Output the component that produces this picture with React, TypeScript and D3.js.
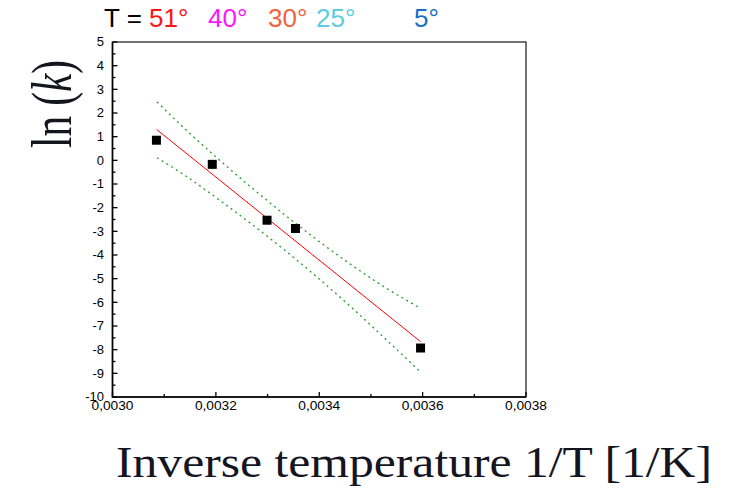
import { useEffect, useRef } from "react"
import * as d3 from "d3"

// measured points: inverse temperature (1/K) vs ln(k)
const invTemp = [0.003085, 0.003193, 0.003299, 0.003354, 0.003596]
const lnK = [0.85, -0.17, -2.53, -2.88, -7.93]

// linear fit end points
const fitX = [0.003085, 0.003596]
const fitY = [1.31, -7.66]

// confidence band
const bandX = [0.003086, 0.003141, 0.003205, 0.00327, 0.003335, 0.003389, 0.003454, 0.003518, 0.003594]
const upperBandY = [2.47, 1.31, 0.05, -1.17, -2.33, -3.25, -4.29, -5.24, -6.23]
const lowerBandY = [0.11, -0.65, -1.65, -2.71, -3.83, -4.81, -6.05, -7.34, -8.9]

const tempLabels = ["51°", "40°", "30°", "25°", "5°"]
const tempColors = ["#ff1414", "#ff14ff", "#f0643f", "#5ccde0", "#1570c6"]

const xTicks = [0.003, 0.0032, 0.0034, 0.0036, 0.0038]
const yTicks = [5, 4, 3, 2, 1, 0, -1, -2, -3, -4, -5, -6, -7, -8, -9, -10]

export default function App() {
  const svgRef = useRef<SVGSVGElement>(null)

  useEffect(() => {
    if (!svgRef.current) return
    const svg = d3.select(svgRef.current)
    svg.selectAll("*").remove()

    const left = 112.5
    const right = 526
    const top = 42
    const bottom = 397

    const x = d3.scaleLinear().domain([0.003, 0.0038]).range([left, right])
    const y = d3.scaleLinear().domain([-10, 5]).range([bottom, top])

    svg.append("rect").attr("width", 735).attr("height", 493).attr("fill", "#fff")

    // temperature header
    const headerX = [149, 208, 268, 316, 414]
    svg.append("text")
      .attr("x", 104)
      .attr("y", 27)
      .attr("font-family", "Liberation Sans, Arial, sans-serif")
      .attr("font-size", 26)
      .attr("fill", "#000")
      .text("T =")
    tempLabels.forEach((t, i) => {
      svg.append("text")
        .attr("x", headerX[i])
        .attr("y", 27)
        .attr("font-family", "Liberation Sans, Arial, sans-serif")
        .attr("font-size", 26)
        .attr("fill", tempColors[i])
        .text(t)
    })

    // frame: heavier left/bottom axes, thin top/right
    svg.append("rect")
      .attr("x", left)
      .attr("y", top)
      .attr("width", right - left)
      .attr("height", bottom - top)
      .attr("fill", "none")
      .attr("stroke", "#000")
      .attr("stroke-width", 1.1)
    svg.append("path")
      .attr("d", `M${left},${top}V${bottom}H${right}`)
      .attr("fill", "none")
      .attr("stroke", "#000")
      .attr("stroke-width", 1.7)

    // ticks point inward
    const xMinor = d3.range(0.0031, 0.0038, 0.0002)
    const tickG = svg.append("g").attr("stroke", "#000").attr("stroke-width", 1.3)
    xTicks.forEach((t) => {
      tickG.append("line").attr("x1", x(t)).attr("x2", x(t)).attr("y1", bottom).attr("y2", bottom - 5)
    })
    xMinor.forEach((t) => {
      tickG.append("line").attr("x1", x(t)).attr("x2", x(t)).attr("y1", bottom).attr("y2", bottom - 3)
    })
    yTicks.forEach((t) => {
      tickG.append("line").attr("x1", left).attr("x2", left + 5).attr("y1", y(t)).attr("y2", y(t))
    })
    d3.range(-9.5, 5, 1).forEach((t) => {
      tickG.append("line").attr("x1", left).attr("x2", left + 3).attr("y1", y(t)).attr("y2", y(t))
    })

    // tick labels
    svg.selectAll(".xlab")
      .data(xTicks)
      .join("text")
      .attr("class", "xlab")
      .attr("x", (d) => x(d))
      .attr("y", 410)
      .attr("text-anchor", "middle")
      .attr("font-family", "Liberation Sans, Arial, sans-serif")
      .attr("font-size", 13)
      .attr("textLength", 42)
      .attr("lengthAdjust", "spacingAndGlyphs")
      .text((d) => d.toFixed(4).replace(".", ","))

    svg.selectAll(".ylab")
      .data(yTicks)
      .join("text")
      .attr("class", "ylab")
      .attr("x", 104)
      .attr("y", (d) => y(d) + 4.3)
      .attr("text-anchor", "end")
      .attr("font-family", "Liberation Sans, Arial, sans-serif")
      .attr("font-size", 13)
      .text((d) => String(d))

    // confidence bands
    const band = d3.line<[number, number]>()
      .x((d) => x(d[0]))
      .y((d) => y(d[1]))
      .curve(d3.curveMonotoneX)
    const upper = bandX.map((v, i) => [v, upperBandY[i]] as [number, number])
    const lower = bandX.map((v, i) => [v, lowerBandY[i]] as [number, number])
    ;[upper, lower].forEach((pts) => {
      svg.append("path")
        .attr("d", band(pts))
        .attr("fill", "none")
        .attr("stroke", "#2a9d2a")
        .attr("stroke-width", 1.3)
        .attr("stroke-dasharray", "2,3.6")
    })

    // fit line
    svg.append("line")
      .attr("x1", x(fitX[0]))
      .attr("y1", y(fitY[0]))
      .attr("x2", x(fitX[1]))
      .attr("y2", y(fitY[1]))
      .attr("stroke", "#ff0000")
      .attr("stroke-width", 1)

    // data points
    const s = 9
    svg.selectAll(".pt")
      .data(invTemp)
      .join("rect")
      .attr("class", "pt")
      .attr("x", (d) => x(d) - s / 2)
      .attr("y", (d, i) => y(lnK[i]) - s / 2)
      .attr("width", s)
      .attr("height", s)
      .attr("fill", "#000")

    // axis titles
    svg.append("text")
      .attr("transform", "translate(71,104) rotate(-90)")
      .attr("text-anchor", "middle")
      .attr("font-family", "Liberation Serif, Times New Roman, serif")
      .attr("font-size", 58)
      .attr("fill", "#15151f")
      .attr("textLength", 88)
      .attr("lengthAdjust", "spacingAndGlyphs")
      .call((t) => {
        t.append("tspan").text("ln (")
        t.append("tspan").attr("font-style", "italic").text("k")
        t.append("tspan").text(")")
      })

    svg.append("text")
      .attr("x", 116)
      .attr("y", 477)
      .attr("font-family", "Liberation Serif, Times New Roman, serif")
      .attr("font-size", 45)
      .attr("fill", "#15151f")
      .attr("textLength", 596)
      .attr("lengthAdjust", "spacingAndGlyphs")
      .text("Inverse temperature 1/T [1/K]")
  }, [])

  return (
    <svg
      ref={svgRef}
      width={735}
      height={493}
      style={{ position: "absolute", left: 0, top: 0 }}
    />
  )
}
